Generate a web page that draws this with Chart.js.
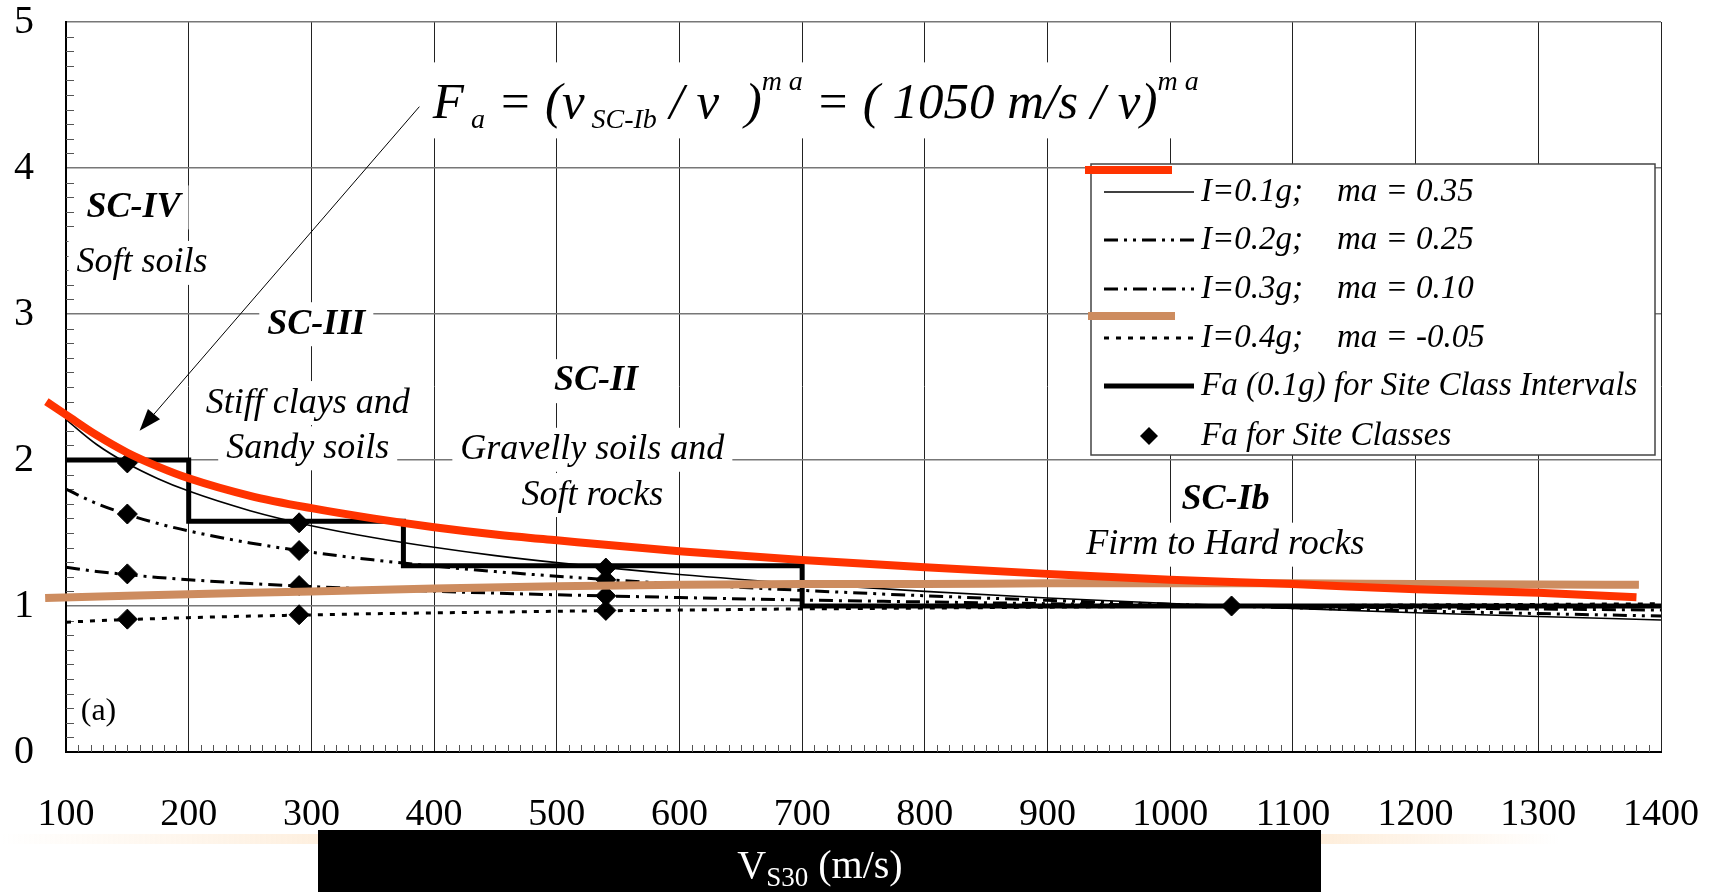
<!DOCTYPE html>
<html>
<head>
<meta charset="utf-8">
<script src="https://cdn.jsdelivr.net/npm/chart.js@4.4.1/dist/chart.umd.min.js"></script>
<style>
  html, body { margin: 0; padding: 0; background: #fff; }
</style>
</head>
<body>
<canvas id="fa-chart" width="1719" height="892"></canvas>
<script>
// values
const vsGrid = [100, 125, 150, 175, 200, 250, 300, 350, 400, 450, 500, 600, 700, 800, 900, 1000, 1100, 1200, 1300, 1400];
const fa01g = [2.277, 2.106, 1.976, 1.872, 1.787, 1.653, 1.550, 1.469, 1.402, 1.345, 1.297, 1.216, 1.152, 1.100, 1.055, 1.017, 0.984, 0.954, 0.928, 0.904];
const fa02g = [1.800, 1.702, 1.627, 1.565, 1.514, 1.432, 1.368, 1.316, 1.273, 1.236, 1.204, 1.150, 1.107, 1.070, 1.039, 1.012, 0.988, 0.967, 0.948, 0.931];
const fa03g = [1.265, 1.237, 1.215, 1.196, 1.180, 1.154, 1.133, 1.116, 1.101, 1.088, 1.077, 1.058, 1.041, 1.028, 1.016, 1.005, 0.995, 0.987, 0.979, 0.972];
const fa04g = [0.889, 0.899, 0.907, 0.914, 0.920, 0.931, 0.939, 0.947, 0.953, 0.958, 0.964, 0.972, 0.980, 0.986, 0.992, 0.998, 1.002, 1.007, 1.011, 1.015];

const redV = [84, 100, 125, 150, 175, 200, 250, 300, 350, 400, 450, 500, 600, 700, 800, 900, 1000, 1100, 1200, 1300, 1380];
const redFa = [2.40, 2.31, 2.17, 2.05, 1.955, 1.875, 1.755, 1.67, 1.60, 1.54, 1.49, 1.45, 1.375, 1.315, 1.265, 1.22, 1.18, 1.15, 1.115, 1.09, 1.06];

const tanV = [83, 150, 200, 300, 400, 500, 600, 700, 800, 900, 1000, 1100, 1200, 1300, 1382];
const tanFa = [1.055, 1.07, 1.08, 1.10, 1.12, 1.135, 1.145, 1.15, 1.15, 1.155, 1.155, 1.155, 1.15, 1.148, 1.145];

const stepV = [100, 200, 375, 700, 1400];
const stepFa = [2.0, 1.58, 1.275, 1.0, 1.0];

const siteV = [150, 150, 150, 150, 290, 290, 290, 290, 540, 540, 540, 540, 1050];
const siteFa = [1.98, 1.63, 1.22, 0.91, 1.57, 1.38, 1.14, 0.94, 1.26, 1.18, 1.07, 0.97, 1.0];

const xTicks = [100, 200, 300, 400, 500, 600, 700, 800, 900, 1000, 1100, 1200, 1300, 1400];
const yTicks = [0, 1, 2, 3, 4, 5];

const legendLabels = ['I=0.1g;', 'I=0.2g;', 'I=0.3g;', 'I=0.4g;', 'Fa (0.1g) for Site Class Intervals', 'Fa for Site Classes'];
const maLabels = ['ma = 0.35', 'ma = 0.25', 'ma = 0.10', 'ma = -0.05'];

const notes = [
  { text: 'SC-IV', v: 155, fa: 3.73, bold: true },
  { text: 'Soft soils', v: 162, fa: 3.35 },
  { text: 'SC-III', v: 304, fa: 2.93, bold: true },
  { text: 'Stiff clays and', v: 297, fa: 2.39 },
  { text: 'Sandy soils', v: 297, fa: 2.08 },
  { text: 'SC-II', v: 532, fa: 2.54, bold: true },
  { text: 'Gravelly soils and', v: 529, fa: 2.07 },
  { text: 'Soft rocks', v: 529, fa: 1.76 },
  { text: 'SC-Ib', v: 1045, fa: 1.73, bold: true },
  { text: 'Firm to Hard rocks', v: 1045, fa: 1.42 }
];

const serif = '"Liberation Serif", "Times New Roman", serif';

function pts(xs, ys) {
  return xs.map((v, i) => ({ x: v, y: ys[i] }));
}

const dashes = {
  ma025: [14, 6, 3, 6, 3, 6],
  ma010: [14, 6, 3, 6],
  ma005: [5, 7]
};

function drawFormula(ctx, x0, y0) {
  const parts = [
    ['F', 0], [' a', 1], [' = (v', 0], [' SC-Ib', 1], [' / v  )', 0],
    ['m a', 2], [' = ( 1050 m/s / v)', 0], ['m a', 2]
  ];
  let x = x0;
  parts.forEach(([t, k]) => {
    ctx.font = k === 0 ? 'italic 51px ' + serif : 'italic 28px ' + serif;
    const dy = k === 1 ? 10 : (k === 2 ? -28 : 0);
    ctx.fillText(t, x, y0 + dy);
    x += ctx.measureText(t).width;
  });
  return x;
}

const extras = {
  id: 'extras',
  beforeDatasetsDraw(chart) {
    const { ctx, chartArea: a, scales: { x, y } } = chart;
    ctx.save();
    // minor ticks
    ctx.strokeStyle = '#555';
    ctx.lineWidth = 1;
    ctx.beginPath();
    for (let i = 1; i < 50; i++) {
      if (i % 10 === 0) continue;
      const py = Math.round(y.getPixelForValue(i / 10)) + 0.5;
      ctx.moveTo(a.left, py);
      ctx.lineTo(a.left + 8, py);
    }
    for (let v = 110; v < 1400; v += 10) {
      if (v % 100 === 0) continue;
      const px = Math.round(x.getPixelForValue(v)) + 0.5;
      ctx.moveTo(px, a.bottom);
      ctx.lineTo(px, a.bottom - 7);
    }
    ctx.stroke();

    // region labels on white boxes
    ctx.textAlign = 'center';
    ctx.textBaseline = 'middle';
    notes.forEach(n => {
      ctx.font = (n.bold ? 'italic bold 36px ' : 'italic 36px ') + serif;
      const w = ctx.measureText(n.text).width;
      const px = x.getPixelForValue(n.v);
      const py = y.getPixelForValue(n.fa);
      ctx.fillStyle = '#fff';
      ctx.fillRect(px - w / 2 - 8, py - 22, w + 16, 44);
      ctx.fillStyle = '#000';
      ctx.fillText(n.text, px, py);
    });

    // formula box
    ctx.textAlign = 'left';
    ctx.textBaseline = 'alphabetic';
    const fx = x.getPixelForValue(399);
    const fy = y.getPixelForValue(4.34);
    ctx.fillStyle = '#fff';
    ctx.fillRect(fx - 10, fy - 56, 770, 76);
    ctx.fillStyle = '#000';
    drawFormula(ctx, fx, fy);

    ctx.font = '32px ' + serif;
    ctx.fillText('(a)', x.getPixelForValue(112), y.getPixelForValue(0.22));
    ctx.restore();
  },
  afterDatasetsDraw(chart) {
    const { ctx, scales: { x, y } } = chart;
    ctx.save();
    // arrow from the formula to the curve
    const x1 = x.getPixelForValue(388), y1 = y.getPixelForValue(4.42);
    const x2 = x.getPixelForValue(160), y2 = y.getPixelForValue(2.2);
    const ang = Math.atan2(y2 - y1, x2 - x1);
    ctx.strokeStyle = '#000';
    ctx.lineWidth = 1;
    ctx.beginPath();
    ctx.moveTo(x1, y1);
    ctx.lineTo(x2 - 16 * Math.cos(ang), y2 - 16 * Math.sin(ang));
    ctx.stroke();
    ctx.fillStyle = '#000';
    ctx.beginPath();
    ctx.moveTo(x2, y2);
    ctx.lineTo(x2 - 22 * Math.cos(ang) + 8 * Math.sin(ang), y2 - 22 * Math.sin(ang) - 8 * Math.cos(ang));
    ctx.lineTo(x2 - 22 * Math.cos(ang) - 8 * Math.sin(ang), y2 - 22 * Math.sin(ang) + 8 * Math.cos(ang));
    ctx.closePath();
    ctx.fill();

    // legend
    const bx = 1091, by = 164, bw = 564, bh = 291;
    ctx.fillStyle = '#fff';
    ctx.fillRect(bx, by, bw, bh);
    ctx.strokeStyle = '#444';
    ctx.lineWidth = 1.5;
    ctx.strokeRect(bx, by, bw, bh);
    ctx.font = 'italic 33px ' + serif;
    ctx.textBaseline = 'middle';
    ctx.textAlign = 'left';
    const rows = [192, 240, 289, 338, 386, 436];
    const styles = [
      { w: 1.6, d: [] }, { w: 3, d: dashes.ma025 }, { w: 3, d: dashes.ma010 },
      { w: 3, d: dashes.ma005 }, { w: 5, d: [] }
    ];
    legendLabels.forEach((lab, i) => {
      const ry = rows[i];
      ctx.strokeStyle = '#000';
      if (i < 5) {
        ctx.lineWidth = styles[i].w;
        ctx.setLineDash(styles[i].d);
        ctx.beginPath();
        ctx.moveTo(1104, ry);
        ctx.lineTo(1194, ry);
        ctx.stroke();
        ctx.setLineDash([]);
      } else {
        ctx.fillStyle = '#000';
        ctx.beginPath();
        ctx.moveTo(1149, ry - 9);
        ctx.lineTo(1158, ry);
        ctx.lineTo(1149, ry + 9);
        ctx.lineTo(1140, ry);
        ctx.closePath();
        ctx.fill();
      }
      ctx.fillStyle = '#000';
      ctx.fillText(lab, 1201, ry);
      if (i < 4) ctx.fillText(maLabels[i], 1337, ry);
    });
    // stray legend bars of the red and tan curves
    ctx.fillStyle = '#ff3300';
    ctx.fillRect(1085, 166, 87, 8);
    ctx.fillStyle = '#cd8c5f';
    ctx.fillRect(1088, 312, 87, 8);
    ctx.restore();
  },
  afterDraw(chart) {
    const { ctx } = chart;
    ctx.save();
    // faint orange glow behind the title bar
    const g = ctx.createLinearGradient(0, 0, 1560, 0);
    g.addColorStop(0, 'rgba(250,190,120,0)');
    g.addColorStop(0.3, 'rgba(250,190,120,0.35)');
    g.addColorStop(0.8, 'rgba(250,190,120,0.35)');
    g.addColorStop(1, 'rgba(250,190,120,0)');
    ctx.fillStyle = g;
    ctx.fillRect(0, 834, 1560, 10);
    ctx.fillStyle = '#000';
    ctx.fillRect(318, 830, 1003, 62);
    ctx.fillStyle = '#fff';
    ctx.textBaseline = 'alphabetic';
    ctx.textAlign = 'left';
    ctx.font = '40px ' + serif;
    const vW = ctx.measureText('V').width;
    ctx.font = '27px ' + serif;
    const sW = ctx.measureText('S30').width;
    ctx.font = '40px ' + serif;
    const rW = ctx.measureText(' (m/s)').width;
    let tx = 820 - (vW + sW + rW) / 2;
    const ty = 878;
    ctx.fillText('V', tx, ty);
    tx += vW;
    ctx.font = '27px ' + serif;
    ctx.fillText('S30', tx, ty + 8);
    tx += sW;
    ctx.font = '40px ' + serif;
    ctx.fillText(' (m/s)', tx, ty);
    ctx.restore();
  }
};

const smooth = { cubicInterpolationMode: 'monotone', pointRadius: 0 };

new Chart(document.getElementById('fa-chart'), {
  type: 'line',
  data: {
    datasets: [
      { label: 'red', data: pts(redV, redFa), borderColor: '#ff3300', borderWidth: 8, clip: false, ...smooth },
      { label: 'tan', data: pts(tanV, tanFa), borderColor: '#cd8c5f', borderWidth: 8, clip: false, ...smooth },
      { label: 'Fa for Site Classes', data: pts(siteV, siteFa), showLine: false, pointStyle: 'rectRot', pointRadius: 10, pointBackgroundColor: '#000', pointBorderColor: '#000', borderColor: '#000' },
      { label: 'Fa (0.1g) for Site Class Intervals', data: pts(stepV, stepFa), stepped: 'before', borderColor: '#000', borderWidth: 5, pointRadius: 0 },
      { label: 'I=0.1g', data: pts(vsGrid, fa01g), borderColor: '#000', borderWidth: 1.6, ...smooth },
      { label: 'I=0.2g', data: pts(vsGrid, fa02g), borderColor: '#000', borderWidth: 3, borderDash: dashes.ma025, ...smooth },
      { label: 'I=0.3g', data: pts(vsGrid, fa03g), borderColor: '#000', borderWidth: 3, borderDash: dashes.ma010, ...smooth },
      { label: 'I=0.4g', data: pts(vsGrid, fa04g), borderColor: '#000', borderWidth: 3, borderDash: dashes.ma005, ...smooth }
    ]
  },
  options: {
    responsive: false,
    animation: false,
    events: [],
    layout: { padding: { top: 22, right: 58, left: 0, bottom: 0 } },
    plugins: { legend: { display: false }, tooltip: { enabled: false } },
    scales: {
      x: {
        type: 'linear', min: 100, max: 1400,
        afterFit: s => { s.height = 140; s.paddingLeft = 0; s.paddingRight = 0; },
        afterBuildTicks: s => { s.ticks = xTicks.map(v => ({ value: v })); },
        ticks: { font: { family: serif, size: 38 }, color: '#000', padding: 40, maxRotation: 0, callback: v => String(v) },
        grid: { color: '#222', lineWidth: 1, drawTicks: false },
        border: { color: '#000', width: 2 }
      },
      y: {
        min: 0, max: 5,
        afterFit: s => { s.width = 66; s.paddingTop = 0; s.paddingBottom = 0; },
        afterBuildTicks: s => { s.ticks = yTicks.map(v => ({ value: v })); },
        ticks: { font: { family: serif, size: 40 }, color: '#000', padding: 32, callback: v => String(v) },
        grid: { color: '#777', lineWidth: 1.5, drawTicks: false },
        border: { color: '#000', width: 2 }
      }
    }
  },
  plugins: [extras]
});
</script>
</body>
</html>
